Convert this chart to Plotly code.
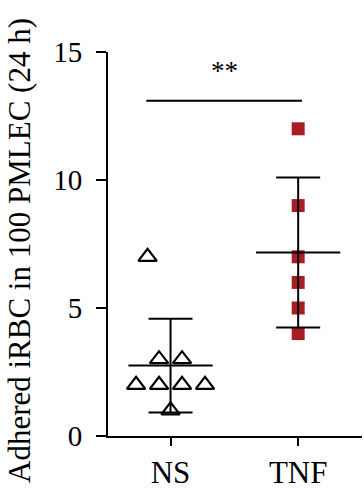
import numpy as np
import plotly.graph_objects as go

# ---- data ----
categories = ["NS", "TNF"]
ns_values = [7, 3, 3, 2, 2, 2, 2, 1]
tnf_values = [12, 9, 7, 6, 5, 4]
y_ticks = [0, 5, 10, 15]
y_title = "Adhered iRBC in 100 PMLEC (24 h)"
sig_label = "**"
sig_level = 13.1

# ---- layout helpers (positions/styles) ----
ns_jitter = [-0.18, -0.09, 0.09, -0.27, -0.09, 0.09, 0.27, 0.0]
tnf_jitter = [0.0] * len(tnf_values)
FONT = "Liberation Serif"
RED = "#A61E25"

fig = go.Figure()

groups = [(0, ns_values, ns_jitter), (1, tnf_values, tnf_jitter)]

# points
fig.add_trace(go.Scatter(
    x=[0 + j for j in ns_jitter], y=ns_values, mode="markers",
    marker=dict(symbol="triangle-up-open", size=16, color="black",
                line=dict(width=2.2, color="black")),
    showlegend=False, hoverinfo="y"))
fig.add_trace(go.Scatter(
    x=[1 + j for j in tnf_jitter], y=tnf_values, mode="markers",
    marker=dict(symbol="square", size=13, color=RED, line=dict(width=0)),
    showlegend=False, hoverinfo="y"))

# mean +/- SD
for xc, vals, _ in groups:
    m = float(np.mean(vals))
    sd = float(np.std(vals, ddof=1))
    fig.add_trace(go.Scatter(
        x=[xc], y=[m], mode="markers", marker=dict(size=1, color="rgba(0,0,0,0)"),
        error_y=dict(type="data", array=[sd], visible=True, width=22,
                     thickness=2, color="black"),
        showlegend=False, hoverinfo="skip"))
    fig.add_trace(go.Scatter(
        x=[xc - 0.33, xc + 0.33], y=[m, m], mode="lines",
        line=dict(color="black", width=2), showlegend=False, hoverinfo="skip"))

# significance bar
fig.add_trace(go.Scatter(
    x=[-0.19, 1.03], y=[sig_level, sig_level], mode="lines",
    line=dict(color="black", width=2), showlegend=False, hoverinfo="skip"))
fig.add_annotation(x=0.42, y=sig_level, yshift=30, text=sig_label, showarrow=False,
                   font=dict(family=FONT, size=27, color="black"),
                   xanchor="center", yanchor="middle")

# y title as rotated annotation
fig.add_annotation(xref="paper", yref="paper", x=0, y=0.5, xshift=-89, yshift=-7,
                   text=y_title, textangle=-90, showarrow=False,
                   font=dict(family=FONT, size=31, color="black"),
                   xanchor="center", yanchor="middle")

fig.update_layout(
    width=364, height=491,
    margin=dict(l=108, r=2, t=52, b=55),
    plot_bgcolor="white", paper_bgcolor="white",
    font=dict(family=FONT, size=28, color="black"),
    xaxis=dict(range=[-0.49, 1.5], tickvals=[0, 1], ticktext=categories,
               showline=True, linecolor="black", linewidth=2,
               ticks="outside", ticklen=8, tickwidth=2, tickcolor="black",
               showgrid=False, zeroline=False, fixedrange=True, automargin=False,
               tickfont=dict(family=FONT, size=31)),
    yaxis=dict(range=[0, 15], tickvals=y_ticks,
               showline=True, linecolor="black", linewidth=2,
               ticks="outside", ticklen=10, tickwidth=2, tickcolor="black",
               ticklabelstandoff=8,
               showgrid=False, zeroline=False, fixedrange=True, automargin=False,
               tickfont=dict(family=FONT, size=29)),
)

fig.write_html("out.html")
